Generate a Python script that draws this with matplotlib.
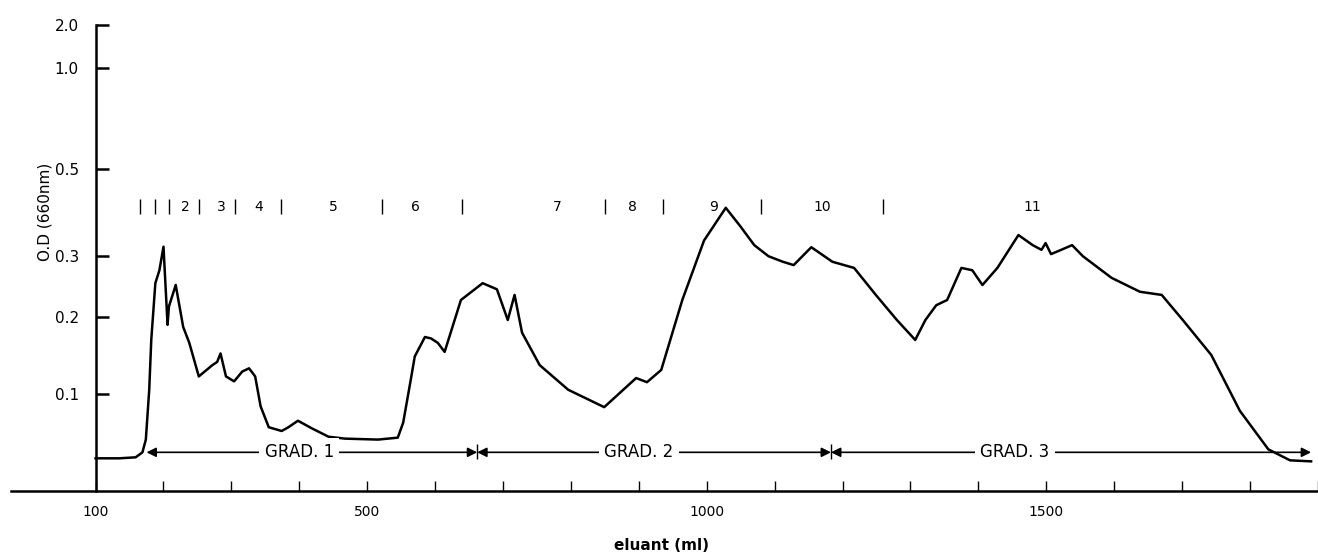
import numpy as np
import matplotlib
matplotlib.use("Agg")
import matplotlib.pyplot as plt

# elution profile (ml, O.D.)
eluant = [100, 135, 159, 169, 174, 179, 182, 188, 194, 200, 206, 208, 218, 229,
          238, 252, 272, 279, 284, 292, 304, 316, 326, 335, 343, 355, 374, 384,
          398, 418, 443, 467, 516, 545, 553, 565, 570, 585, 594, 604, 614, 638,
          670, 691, 707, 717, 728, 754, 796, 849, 896, 912, 933, 964, 996, 1028,
          1049, 1070, 1091, 1112, 1128, 1154, 1185, 1217, 1249, 1280, 1307,
          1322, 1338, 1354, 1375, 1391, 1406, 1428, 1459, 1480, 1493, 1499,
          1507, 1522, 1538, 1554, 1596, 1638, 1670, 1701, 1743, 1785, 1827,
          1859, 1890]
od = [.031, .031, .032, .037, .050, .105, .168, .253, .275, .318, .189, .216,
      .250, .186, .164, .121, .135, .139, .150, .121, .115, .127, .131, .121,
      .086, .063, .059, .063, .070, .062, .053, .051, .050, .052, .068, .121,
      .146, .172, .170, .164, .152, .226, .253, .243, .196, .234, .178, .135,
      .105, .085, .119, .114, .129, .226, .330, .400, .360, .321, .300, .290,
      .284, .317, .290, .279, .234, .196, .168, .196, .218, .226, .279, .275,
      .250, .279, .341, .321, .312, .325, .304, .312, .321, .300, .262, .239,
      .234, .196, .148, .081, .040, .029, .028]

# fraction boundaries and numbers
frac_edges = [165, 188, 208, 252, 306, 373, 522, 640, 850, 935, 1080, 1260]
frac_labels = ["2", "3", "4", "5", "6", "7", "8", "9", "10", "11"]
frac_label_x = [232, 285, 340, 450, 571, 780, 890, 1010, 1170, 1480]

# gradients
grad_edges = [175, 662, 1183, 1890]
grad_names = ["GRAD. 1", "GRAD. 2", "GRAD. 3"]
grad_text_x = [400, 900, 1454]

ytick_vals = [0.1, 0.2, 0.3, 0.5, 1.0, 2.0]
xtick_vals = list(range(100, 2000, 100))
xtick_shown = [100, 500, 1000, 1500]


def fwd(y):
    return 1 - 10 ** (-np.asarray(y, dtype=float))


def inv(t):
    t = np.clip(np.asarray(t, dtype=float), None, 0.999999)
    return -np.log10(1 - t)


W, H = 1318, 555
fig = plt.figure(figsize=(W / 100, H / 100), dpi=100)
ax = fig.add_axes([10.7 / W, (H - 490.7) / H, (1317.9 - 10.7) / W,
                   (490.7 - 25.4) / H])
ax.set_yscale("function", functions=(fwd, inv))
ax.set_xlim(-25, 1890)
ax.set_ylim(0, 2.0)

ax.plot(eluant, od, color="black", lw=1.8, solid_joinstyle="round")

for s in ["top", "right"]:
    ax.spines[s].set_visible(False)
ax.spines["left"].set_position(("data", 100))
ax.spines["left"].set_linewidth(1.8)
ax.spines["bottom"].set_linewidth(1.8)

ax.set_yticks(ytick_vals)
ax.set_yticklabels([f"{v:.1f}" for v in ytick_vals])
ax.yaxis.set_minor_locator(matplotlib.ticker.NullLocator())
ax.tick_params(axis="y", direction="in", length=9, width=1.8, pad=12,
               labelsize=11)
ax.set_xticks(xtick_vals)
ax.set_xticklabels([str(v) if v in xtick_shown else "" for v in xtick_vals])
ax.tick_params(axis="x", direction="in", length=7, width=1.0, pad=10,
               labelsize=10)

# fraction markers
y0, y1 = 0.385, 0.42
ax.vlines(frac_edges, y0, y1, color="black", lw=1.0)
for lab, x in zip(frac_labels, frac_label_x):
    ax.text(x, 0.402, lab, ha="center", va="center", fontsize=10)

# gradient arrows
ya = 0.037
for i, name in enumerate(grad_names):
    a, b = grad_edges[i], grad_edges[i + 1]
    ax.annotate("", xy=(b, ya), xytext=(a, ya),
                arrowprops=dict(arrowstyle="<|-|>", color="black", lw=1.2,
                                mutation_scale=14, shrinkA=0, shrinkB=0))
    ax.text(grad_text_x[i], ya, name, ha="center", va="center", fontsize=12,
            bbox=dict(fc="white", ec="none", pad=4))
ax.vlines(grad_edges[1:3], 0.03, 0.045, color="black", lw=1.0)

fig.text(45 / W, 1 - 212 / H, "O.D (660nm)", rotation=90, ha="center",
         va="center", fontsize=11)
fig.text(661 / W, 1 - 545 / H, "eluant (ml)", ha="center", va="center",
         fontsize=11, fontweight="bold")

fig.savefig("out.png", dpi=100)
